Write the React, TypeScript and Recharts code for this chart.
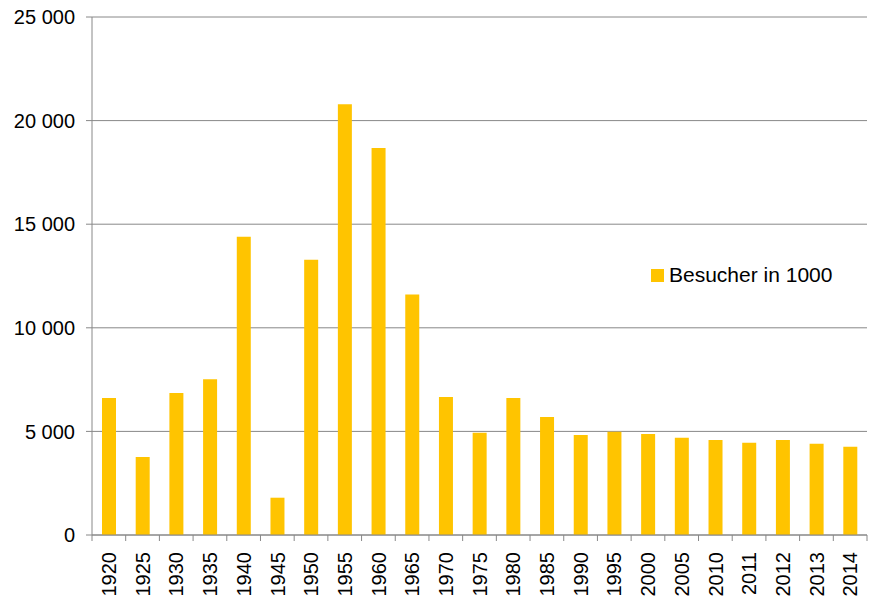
import React from 'react';
import { BarChart, Bar, XAxis, YAxis, CartesianGrid, Legend } from 'recharts';

const years = ['1920', '1925', '1930', '1935', '1940', '1945', '1950', '1955', '1960', '1965', '1970', '1975',
    '1980', '1985', '1990', '1995', '2000', '2005', '2010', '2011', '2012', '2013', '2014'];

const visitors = [6610, 3770, 6850, 7520, 14400, 1800, 13290, 20790, 18680, 11610, 6660, 4940,
    6610, 5700, 4830, 4980, 4880, 4690, 4590, 4450, 4590, 4400, 4260];

const yTicks = [0, 5000, 10000, 15000, 20000, 25000];

const seriesName = 'Besucher in 1000';

const data = years.map((year, i) => ({ year, value: visitors[i] }));

const WIDTH = 869;
const HEIGHT = 601;
const LEFT = 92;
const RIGHT_MARGIN = 2;
const BAND = (WIDTH - LEFT - RIGHT_MARGIN) / years.length;
const FONT = '"Liberation Sans", Arial, sans-serif';
const BAR_COLOR = '#FFC400';

const formatThousands = (v: number) => String(v).replace(/\B(?=(\d{3})+(?!\d))/g, ' ');

const XTick = (props: any) => {
    const { x, y, payload, index } = props;
    const half = BAND / 2;
    return (
        <g>
            <line x1={x - half} y1={y} x2={x - half} y2={y + 6} stroke="#888" />
            {index === years.length - 1 && (
                <line x1={x + half} y1={y} x2={x + half} y2={y + 6} stroke="#888" />
            )}
            <text
                transform={`translate(${x},${y + 17}) rotate(-90)`}
                textAnchor="end"
                dy="0.36em"
                fill="#000"
                fontSize={20}
                fontFamily={FONT}
            >
                {payload.value}
            </text>
        </g>
    );
};

const LegendContent = () => (
    <div style={{ display: 'flex', alignItems: 'center', fontFamily: FONT, fontSize: 21, color: '#000' }}>
        <span style={{ width: 13, height: 13, background: BAR_COLOR, display: 'inline-block', marginRight: 5 }} />
        <span>{seriesName}</span>
    </div>
);

export default function App() {
    return (
        <div style={{ position: 'absolute', left: 0, top: 0, background: '#fff' }}>
            <BarChart
                width={WIDTH}
                height={HEIGHT}
                data={data}
                margin={{ top: 17, right: RIGHT_MARGIN, left: 0, bottom: 0 }}
            >
                <CartesianGrid vertical={false} stroke="#888" />
                <XAxis
                    dataKey="year"
                    height={66}
                    interval={0}
                    tickLine={false}
                    tickSize={0}
                    tickMargin={0}
                    axisLine={{ stroke: '#888' }}
                    tick={<XTick />}
                />
                <YAxis
                    width={LEFT}
                    domain={[0, 25000]}
                    ticks={yTicks}
                    tickFormatter={formatThousands}
                    tickSize={6}
                    tickMargin={11}
                    axisLine={{ stroke: '#888' }}
                    tickLine={{ stroke: '#888' }}
                    tick={{ fill: '#000', fontSize: 20, fontFamily: FONT }}
                />
                <YAxis
                    yAxisId="right"
                    orientation="right"
                    width={0}
                    tick={false}
                    tickLine={false}
                    axisLine={{ stroke: '#bbb' }}
                />
                <Legend
                    layout="horizontal"
                    verticalAlign="middle"
                    align="center"
                    content={<LegendContent />}
                    wrapperStyle={{ left: 651, top: 263, width: 210 }}
                />
                <Bar
                    dataKey="value"
                    name={seriesName}
                    fill={BAR_COLOR}
                    barSize={14}
                    isAnimationActive={false}
                />
            </BarChart>
        </div>
    );
}
